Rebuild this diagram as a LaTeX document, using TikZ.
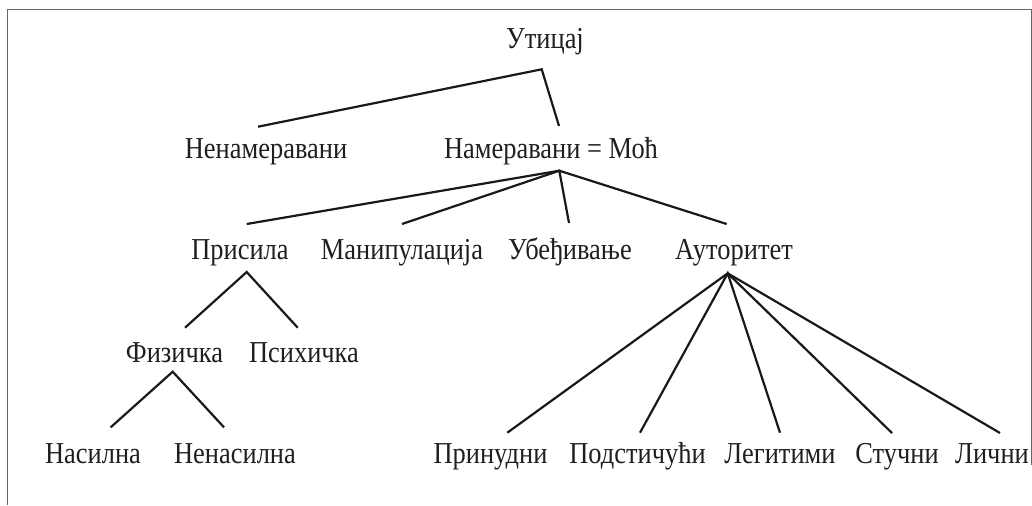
\documentclass[tikz,border=0pt]{standalone}
\usepackage{fontspec}
\setmainfont[FakeStretch=0.87]{Liberation Serif}
\begin{document}
\begin{tikzpicture}[x=0.5pt,y=-0.5pt,
  lbl/.style={anchor=base,inner sep=0pt,font=\fontsize{15.2pt}{17pt}\selectfont,text=black!88},
  edge/.style={line width=1.1pt,draw=black!90},
  frame/.style={line width=0.8pt,draw=black!60}]
\useasboundingbox (0,0) rectangle (1032,505);
\draw[frame] (7.5,505) -- (7.5,9.5) -- (1031.3,9.5) -- (1031.3,465);
% labels
\node[lbl] (ut) at (545,48) {Утицај};
\node[lbl] (nen) at (266,158) {Ненамеравани};
\node[lbl] (nam) at (551,158) {Намеравани = Моћ};
\node[lbl] (pri) at (240,259) {Присила};
\node[lbl] (man) at (402,259) {Манипулација};
\node[lbl] (ube) at (570,259) {Убеђивање};
\node[lbl] (aut) at (734,259) {Ауторитет};
\node[lbl] (fiz) at (174.5,362) {Физичка};
\node[lbl] (psi) at (304,362) {Психичка};
\node[lbl] (nas) at (93,463) {Насилна};
\node[lbl] (nen2) at (235,463) {Ненасилна};
\node[lbl] (prin) at (490.5,463) {Принудни};
\node[lbl] (pod) at (637.5,463) {Подстичући};
\node[lbl] (leg) at (780,463) {Легитими};
\node[lbl] (stu) at (897,463) {Стучни};
\node[lbl] (lic) at (992,463) {Лични};
% connector end points
\coordinate (ut-b) at (541.7,69.3);
\coordinate (nen-t) at (258,126.7);
\coordinate (nam-t) at (559,126);
\coordinate (nam-b) at (559.3,170.7);
\coordinate (pri-t) at (246.7,224);
\coordinate (man-t) at (402,224);
\coordinate (ube-t) at (569,223);
\coordinate (aut-t) at (726.7,224);
\coordinate (pri-b) at (246.7,272);
\coordinate (fiz-t) at (185,327.7);
\coordinate (psi-t) at (297.7,327.7);
\coordinate (fiz-b) at (172.7,371.7);
\coordinate (nas-t) at (110.7,427.3);
\coordinate (nen2-t) at (224,427.3);
\coordinate (aut-b) at (727.7,273.3);
\coordinate (prin-t) at (507.3,432.7);
\coordinate (pod-t) at (640,432.7);
\coordinate (leg-t) at (780,432.7);
\coordinate (stu-t) at (892,433);
\coordinate (lic-t) at (1000,433);
% connectors
\draw[edge] (nen-t) -- (ut-b) -- (nam-t);
\draw[edge] (pri-t) -- (nam-b) -- (aut-t);
\draw[edge] (man-t) -- (nam-b) -- (ube-t);
\draw[edge] (fiz-t) -- (pri-b) -- (psi-t);
\draw[edge] (nas-t) -- (fiz-b) -- (nen2-t);
\draw[edge] (prin-t) -- (aut-b) -- (lic-t);
\draw[edge] (pod-t) -- (aut-b) -- (leg-t);
\draw[edge] (stu-t) -- (aut-b);
\end{tikzpicture}
\end{document}
